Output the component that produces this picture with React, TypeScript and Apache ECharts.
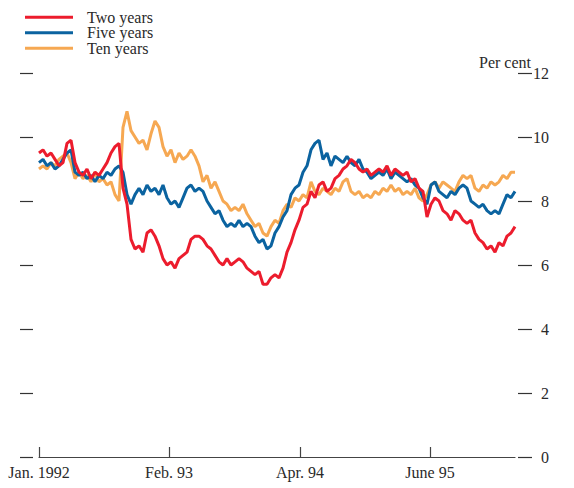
import React, { useEffect, useRef } from "react";
import * as echarts from "echarts";

const SERIES_NAMES = ["Two years", "Five years", "Ten years"];
const COLORS = ["#ec1c2d", "#0b63a0", "#f6a852"];

const TWO_YEARS = [
  9.5, 9.6, 9.4, 9.5, 9.3, 9.1, 9.2, 9.8, 9.9, 9.2,
  8.9, 8.8, 9.0, 8.7, 8.9, 8.8, 9.0, 9.2, 9.5, 9.7,
  9.8, 8.4, 7.9, 6.8, 6.5, 6.6, 6.4, 7.0, 7.1, 6.9,
  6.6, 6.2, 6.0, 6.1, 5.9, 6.2, 6.3, 6.4, 6.8, 6.9,
  6.9, 6.8, 6.6, 6.5, 6.3, 6.1, 6.0, 6.2, 6.0, 6.1,
  6.2, 6.1, 5.9, 5.8, 5.7, 5.8, 5.4, 5.4, 5.6, 5.7,
  5.6, 5.9, 6.4, 6.7, 7.1, 7.4, 7.8, 7.9, 8.3, 8.1,
  8.5, 8.6, 8.3, 8.4, 8.7, 8.8, 9.0, 9.1, 9.3, 9.2,
  9.0, 8.9, 9.0, 8.8, 8.9, 9.0, 8.9, 9.1, 8.8, 9.0,
  8.9, 8.8, 8.9, 8.6, 8.7, 8.4, 8.3, 7.5, 7.9, 8.1,
  8.0, 7.7, 7.6, 7.4, 7.7, 7.6, 7.4, 7.3, 7.4, 7.0,
  6.8, 6.7, 6.5, 6.6, 6.4, 6.7, 6.6, 6.9, 7.0, 7.2,
];

const FIVE_YEARS = [
  9.2, 9.3, 9.1, 9.2, 9.0, 9.1, 9.3, 9.5, 9.6, 8.9,
  8.8, 8.9, 8.7, 8.8, 8.6, 8.8, 8.7, 8.9, 8.8, 9.0,
  9.1, 8.9, 8.2, 7.9, 8.2, 8.4, 8.2, 8.5, 8.3, 8.4,
  8.2, 8.5, 8.1, 7.9, 8.0, 7.8, 8.1, 8.4, 8.5, 8.3,
  8.4, 8.3, 8.0, 7.8, 7.6, 7.7, 7.4, 7.2, 7.3, 7.2,
  7.4, 7.2, 7.3, 7.2, 6.9, 6.7, 6.8, 6.5, 6.6, 7.0,
  7.2, 7.5, 7.7, 8.2, 8.4, 8.5, 8.9, 9.1, 9.6, 9.8,
  9.9, 9.3, 9.5, 9.1, 9.4, 9.3, 9.2, 9.4, 9.2, 9.1,
  9.3, 9.0, 8.9, 8.7, 8.8, 8.9, 8.8, 9.0, 8.7, 8.9,
  8.8, 8.7, 8.6, 8.7, 8.5, 8.4, 8.1, 7.9, 8.5, 8.6,
  8.3, 8.2, 8.1, 8.3, 8.2, 8.4, 8.5, 8.4, 8.0, 7.9,
  7.8, 7.9, 7.7, 7.6, 7.7, 7.6, 7.9, 8.2, 8.1, 8.3,
];

const TEN_YEARS = [
  9.0, 9.1, 9.0, 9.2, 9.1, 9.3, 9.4, 9.5, 9.2, 8.7,
  8.9, 8.7, 8.8, 8.6, 8.9, 8.6, 8.7, 8.5, 8.6, 8.2,
  8.0, 10.3, 10.8, 10.2, 10.0, 9.8, 9.9, 9.6, 10.1, 10.5,
  10.3, 9.7, 9.4, 9.6, 9.2, 9.5, 9.3, 9.4, 9.6, 9.4,
  9.1, 8.6, 8.8, 8.4, 8.6, 8.3, 8.0, 7.9, 7.7, 7.8,
  7.7, 7.9, 7.6, 7.4, 7.2, 7.3, 7.0, 6.9, 7.2, 7.4,
  7.3, 7.7, 7.9, 7.8, 8.1, 8.0, 8.2, 8.1, 8.6, 8.3,
  8.2, 8.4, 8.3, 8.2, 8.4, 8.3, 8.6, 8.7, 8.3, 8.2,
  8.3, 8.1, 8.2, 8.1, 8.3, 8.2, 8.4, 8.3, 8.5, 8.3,
  8.4, 8.2, 8.3, 8.2, 8.4, 8.1, 8.0, 8.2, 8.5, 8.6,
  8.4, 8.6, 8.5, 8.4, 8.3, 8.6, 8.8, 8.7, 8.8, 8.4,
  8.3, 8.5, 8.4, 8.6, 8.5, 8.6, 8.8, 8.7, 8.9, 8.9,
];

const TICK_POSITIONS = [0, 32.5, 65.25, 97.75];
const TICK_LABELS = ["Jan. 1992", "Feb. 93", "Apr. 94", "June 95"];

const FONT = "'Liberation Serif', 'Times New Roman', serif";
const TEXT_COLOR = "#2a2a2a";

export default function App() {
  const ref = useRef<HTMLDivElement>(null);

  useEffect(() => {
    if (!ref.current) return;
    const chart = echarts.init(ref.current, null, { renderer: "svg" });
    const all = [TWO_YEARS, FIVE_YEARS, TEN_YEARS];
    const n = TWO_YEARS.length;
    const labelFor = (v: number) => {
      const idx = TICK_POSITIONS.findIndex((p) => Math.abs(p - v) < 0.01);
      return idx >= 0 ? TICK_LABELS[idx] : "";
    };
    const drawOrder = [2, 1, 0];
    chart.setOption({
      animation: false,
      backgroundColor: "#ffffff",
      textStyle: { fontFamily: FONT },
      legend: {
        orient: "vertical",
        left: 20,
        top: 4,
        itemWidth: 48,
        itemHeight: 3,
        itemGap: -1,
        icon: "rect",
        data: SERIES_NAMES,
        textStyle: {
          fontFamily: FONT,
          fontSize: 16,
          color: TEXT_COLOR,
          lineHeight: 16.5,
          padding: [0, 0, 0, 9],
        },
      },
      grid: { left: 39, right: 59, top: 73, bottom: 31 },
      xAxis: {
        type: "value",
        min: 0,
        max: n - 1,
        splitLine: { show: false },
        axisLine: { show: true, onZero: false, lineStyle: { color: "#444", width: 1.2 } },
        axisTick: {
          show: true,
          inside: true,
          length: 10,
          customValues: TICK_POSITIONS,
          lineStyle: { color: "#444", width: 1.2 },
        },
        axisLabel: {
          show: true,
          customValues: TICK_POSITIONS,
          formatter: (v: number) => labelFor(v),
          fontFamily: FONT,
          fontSize: 16,
          color: TEXT_COLOR,
          margin: 7,
        },
      },
      yAxis: [
        {
          type: "value",
          position: "right",
          offset: 3,
          min: 0,
          max: 12,
          interval: 2,
          splitLine: { show: false },
          axisLine: { show: false, onZero: false },
          axisTick: { show: true, length: 14, lineStyle: { color: "#333", width: 1.2 } },
          axisLabel: {
            align: "right",
            margin: 31,
            fontFamily: FONT,
            fontSize: 16,
            color: TEXT_COLOR,
          },
        },
        {
          type: "value",
          position: "left",
          offset: 6,
          min: 0,
          max: 12,
          interval: 2,
          splitLine: { show: false },
          axisLine: { show: false, onZero: false },
          axisTick: { show: true, length: 13, lineStyle: { color: "#333", width: 1.2 } },
          axisLabel: { show: false },
        },
      ],
      graphic: [
        {
          type: "text",
          right: 43,
          top: 54,
          style: {
            text: "Per cent",
            font: `16px ${FONT}`,
            fill: TEXT_COLOR,
          },
        },
      ],
      series: drawOrder.map((k) => ({
        name: SERIES_NAMES[k],
        type: "line",
        yAxisIndex: 0,
        showSymbol: false,
        symbol: "none",
        color: COLORS[k],
        lineStyle: { width: 3, color: COLORS[k] },
        data: all[k].map((v, i) => [i, v]),
      })),
    });
    return () => chart.dispose();
  }, []);

  return (
    <div
      ref={ref}
      style={{ position: "fixed", left: 0, top: 0, width: 574, height: 488 }}
    />
  );
}
